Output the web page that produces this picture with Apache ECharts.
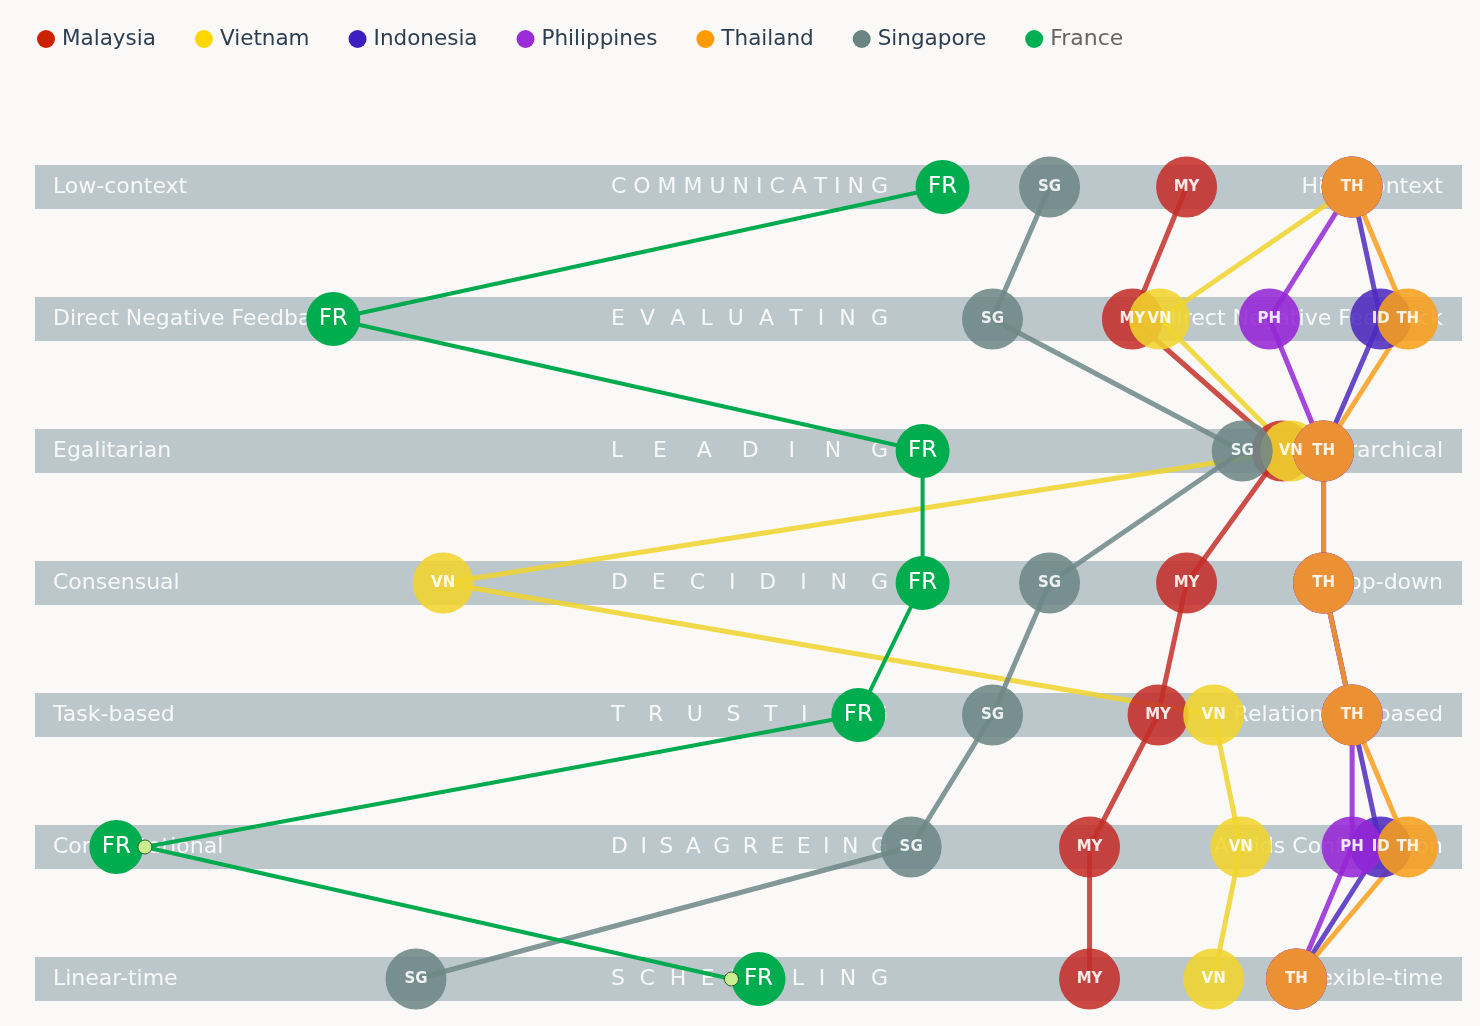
<!DOCTYPE html>
<html><head><meta charset="utf-8">
<script src="https://cdn.jsdelivr.net/npm/echarts@6/dist/echarts.min.js"></script>
<style>html,body{margin:0;padding:0;background:#faf9f7;}#c{width:1480px;height:1026px;}</style>
</head><body><div id="c"></div>
<script>
// ---- data ----
const dimensions = ['COMMUNICATING','EVALUATING','LEADING','DECIDING','TRUSTING','DISAGREEING','SCHEDULING'];
const leftLabels = ['Low-context','Direct Negative Feedback','Egalitarian','Consensual','Task-based','Confrontational','Linear-time'];
const rightLabels = ['High-context','Indirect Negative Feedback','Hierarchical','Top-down','Relationship-based','Avoids Confrontation','Flexible-time'];
const countries = ['Malaysia','Vietnam','Indonesia','Philippines','Thailand','Singapore','France'];
const codes = ['MY','VN','ID','PH','TH','SG','FR'];
// positions on a 0-100 scale (left pole = 0, right pole = 100), one per dimension
const malaysia    = [80.7, 76.9, 87.4, 80.7, 78.7, 73.9, 73.9];
const vietnam     = [92.3, 78.8, 88.0, 28.6, 82.6, 84.5, 82.6];
const indonesia   = [92.3, 94.3, 90.3, 90.3, 92.3, 94.3, 88.4];
const philippines = [92.3, 86.5, 90.3, 90.3, 92.3, 92.3, 88.4];
const thailand    = [92.3, 96.2, 90.3, 90.3, 92.3, 96.2, 88.4];
const singapore   = [71.1, 67.1, 84.6, 71.1, 67.1, 61.4, 26.7];
const france      = [63.6, 20.9, 62.2, 62.2, 57.7, 5.7, 50.7];
const francePath  = [63.6, 20.9, 62.2, 62.2, 57.7, 7.7, 48.8];

const values = [malaysia, vietnam, indonesia, philippines, thailand, singapore];

// ---- styles ----
const bubbleColors = ['#c42f2a','#f0d42c','#4e2ac0','#9526d6','#f89f1c','#6d8788'];
const legendColors = ['#cc2200','#ffd700','#3b1fc1','#9b2dd6','#ff9a00','#6a8484','#00b050'];
const FONT = '"DejaVu Sans", Verdana, sans-serif';
const WORD_FONT = '22px ' + FONT;

const measureCtx = document.createElement('canvas').getContext('2d');
measureCtx.font = WORD_FONT;

const chart = echarts.init(document.getElementById('c'));

function renderBand(params, api) {
  const row = api.value(0);
  const p0 = api.coord([0, row]);
  const p1 = api.coord([100, row]);
  const h = 44;
  const children = [{
    type: 'rect',
    shape: {x: p0[0], y: p0[1] - h / 2, width: p1[0] - p0[0], height: h},
    style: {fill: '#bcc7cb'}
  }, {
    type: 'text',
    style: {text: leftLabels[row], x: p0[0] + 18, y: p0[1], align: 'left', verticalAlign: 'middle',
      textAlign: 'left', textVerticalAlign: 'middle', fill: '#f7f9f9', font: '22px ' + FONT}
  }, {
    type: 'text',
    style: {text: rightLabels[row], x: p1[0] - 19, y: p0[1], align: 'right', verticalAlign: 'middle',
      textAlign: 'right', textVerticalAlign: 'middle', fill: '#f7f9f9', font: '22px ' + FONT}
  }];
  // dimension name spread (letter-spaced) over a fixed width
  const word = dimensions[row];
  const n = word.length;
  const start = p0[0] + 576, span = 277;
  const widths = word.split('').map(ch => measureCtx.measureText(ch).width);
  const total = widths.reduce((a, b) => a + b, 0);
  const gap = (span - total) / (n - 1);
  let x = start;
  for (let i = 0; i < n; i++) {
    children.push({
      type: 'text',
      style: {text: word[i], x: x, y: p0[1], align: 'left', verticalAlign: 'middle',
        textAlign: 'left', textVerticalAlign: 'middle', fill: '#f7f9f9', font: WORD_FONT}
    });
    x += widths[i] + gap;
  }
  return {type: 'group', children};
}

const series = [{
  type: 'custom',
  name: 'bands',
  silent: true,
  z: 1,
  renderItem: renderBand,
  data: dimensions.map((d, i) => [i])
}];

// a bubble's code label is hidden when a later-drawn bubble sits (almost) on top of it
function covered(k, i) {
  for (let j = k + 1; j < values.length; j++) {
    if (Math.abs(values[j][i] - values[k][i]) < 1.0) return true;
  }
  return false;
}

values.forEach((arr, k) => {
  series.push({
    type: 'line',
    name: countries[k],
    z: 2,
    data: arr.map((v, i) => ({value: [v, i], label: {show: !covered(k, i)}})),
    symbol: 'circle',
    symbolSize: 61,
    itemStyle: {color: bubbleColors[k], opacity: 0.88},
    lineStyle: {color: bubbleColors[k], width: 5, opacity: 0.85},
    label: {show: true, position: 'inside', formatter: codes[k], color: '#fff',
      fontWeight: 'bold', fontSize: 15, fontFamily: FONT},
    emphasis: {disabled: true}
  });
});

// France path line
series.push({
  type: 'line',
  name: 'France',
  z: 3,
  data: francePath.map((v, i) => [v, i]),
  symbol: 'none',
  lineStyle: {color: '#00aa4f', width: 4, opacity: 1},
  emphasis: {disabled: true}
});
// France bubbles
series.push({
  type: 'scatter',
  name: 'France',
  z: 4,
  data: france.map((v, i) => [v, i]),
  symbolSize: 54,
  itemStyle: {color: '#00ad4e', opacity: 1},
  label: {show: true, position: 'inside', formatter: 'FR', color: '#fff', fontSize: 23, fontFamily: FONT},
  emphasis: {disabled: true}
});
// path vertices that are off the bubble centres
series.push({
  type: 'scatter',
  name: 'France path vertex',
  z: 5,
  data: francePath.map((v, i) => [v, i]).filter((p, i) => p[0] !== france[i]),
  symbolSize: 14,
  itemStyle: {color: '#c8ee90', borderColor: '#2f5f2a', borderWidth: 1, opacity: 1},
  emphasis: {disabled: true}
});

chart.setOption({
  backgroundColor: '#faf9f7',
  animation: false,
  grid: {left: 35, right: 18, top: 187, bottom: 47},
  xAxis: {type: 'value', min: 0, max: 100, show: false},
  yAxis: {type: 'value', min: 0, max: 6, inverse: true, show: false},
  legend: {
    left: 32, top: 23, itemWidth: 22, itemHeight: 18, itemGap: 39, icon: 'circle',
    textStyle: {fontSize: 21.5, color: '#2c3e50', fontFamily: FONT},
    data: countries.map((n, i) => {
      const o = {name: n, itemStyle: {color: legendColors[i], opacity: 1}};
      if (n === 'France') o.textStyle = {color: '#666666', fontSize: 22, padding: [5, 0, 0, 0]};
      return o;
    })
  },
  series: series
});
</script>
</body></html>
